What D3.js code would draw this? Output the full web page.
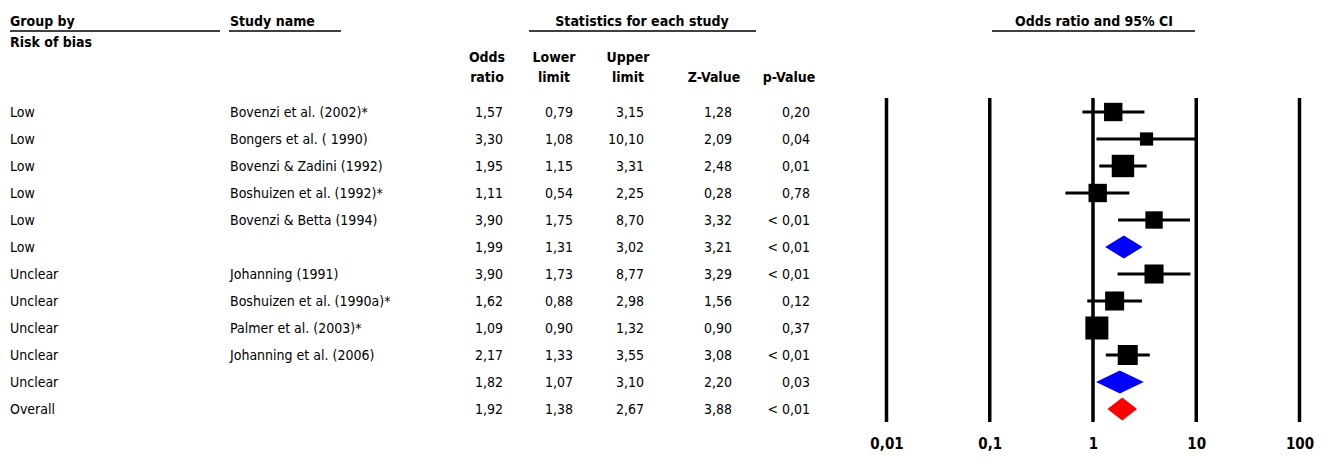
<!DOCTYPE html>
<html>
<head>
<meta charset="utf-8">
<script src="https://cdn.jsdelivr.net/npm/d3@7/dist/d3.min.js"></script>
<style>
  body { margin: 0; background: #fff; }
  svg text { font-family: "Liberation Sans Narrow", "Arial Narrow", "DejaVu Sans Condensed", sans-serif; font-size: 14px; fill: #000; }
  svg text.bold { font-weight: bold; }
</style>
</head>
<body>
<div id="graphicContainer"></div>
<script>

// one entry per row, top to bottom
const groups = ["Low", "Low", "Low", "Low", "Low", "Low", "Unclear", "Unclear", "Unclear", "Unclear", "Unclear", "Overall"]
const studies = ["Bovenzi et al. (2002)*", "Bongers et al. ( 1990)", "Bovenzi & Zadini (1992)", "Boshuizen et al. (1992)*", "Bovenzi & Betta (1994)", "", "Johanning  (1991)", "Boshuizen et al. (1990a)*", "Palmer et al. (2003)*", "Johanning et al. (2006)", "", ""]
const rowTypes = ["study", "study", "study", "study", "study", "subtotal", "study", "study", "study", "study", "subtotal", "overall"]
const oddsRatio = [1.57, 3.30, 1.95, 1.11, 3.90, 1.99, 3.90, 1.62, 1.09, 2.17, 1.82, 1.92]
const lowerLimit = [0.79, 1.08, 1.15, 0.54, 1.75, 1.31, 1.73, 0.88, 0.90, 1.33, 1.07, 1.38]
const upperLimit = [3.15, 10.10, 3.31, 2.25, 8.70, 3.02, 8.77, 2.98, 1.32, 3.55, 3.10, 2.67]
const zValue = [1.28, 2.09, 2.48, 0.28, 3.32, 3.21, 3.29, 1.56, 0.90, 3.08, 2.20, 3.88]
const pValue = ["0,20", "0,04", "0,01", "0,78", "< 0,01", "< 0,01", "< 0,01", "0,12", "0,37", "< 0,01", "0,03", "< 0,01"]
// relative weights (estimated from square sizes)
const weights = [20.4, 10.6, 30.4, 20.4, 18.2, 0, 21.9, 21.9, 32.0, 24.2, 0, 0]

const axisTicks = [0.01, 0.1, 1, 10, 100]
const tickLabels = ["0,01", "0,1", "1", "10", "100"]

const rows = groups.map((g, i) => ({
  group: g,
  study: studies[i],
  type: rowTypes[i],
  or: oddsRatio[i],
  lo: lowerLimit[i],
  hi: upperLimit[i],
  z: zValue[i],
  p: pValue[i],
  w: weights[i]
}))

const width = 1323
const height = 457

const fmt = (v) => d3.format(".2f")(v).replace(".", ",")

const svg = d3.select("#graphicContainer").append("svg")
.attr("width", width)
.attr("height", height)

const y = d3.scalePoint()
.domain(d3.range(rows.length))
.range([112, 409])

const x = d3.scaleLog()
.domain([0.01, 100])
.range([886.5, 1299.5])

const size = d3.scaleSqrt()
.domain([0, d3.max(weights)])
.range([0, 23])

// header titles with underlines
const headers = [
  { text: "Group by", x: 10, anchor: "start", x1: 10, x2: 220 },
  { text: "Study name", x: 230, anchor: "start", x1: 229, x2: 341 },
  { text: "Statistics for each study", x: 642, anchor: "middle", x1: 529, x2: 756 },
  { text: "Odds ratio and 95% CI", x: 1094, anchor: "middle", x1: 992, x2: 1195 }
]

headers.forEach((h) => {

  svg.append("text")
  .attr("class", "bold")
  .attr("x", h.x)
  .attr("y", 26)
  .attr("text-anchor", h.anchor)
  .text(h.text)

  svg.append("line")
  .attr("x1", h.x1)
  .attr("x2", h.x2)
  .attr("y1", 31)
  .attr("y2", 31)
  .attr("stroke", "#000")
  .attr("stroke-width", 1.5)

})

svg.append("text")
.attr("class", "bold")
.attr("x", 10)
.attr("y", 47)
.text("Risk of bias")

// column headers
const columns = [
  { top: "Odds", bottom: "ratio", center: 487, right: 503, key: (d) => fmt(d.or) },
  { top: "Lower", bottom: "limit", center: 554, right: 573, key: (d) => fmt(d.lo) },
  { top: "Upper", bottom: "limit", center: 628, right: 644, key: (d) => fmt(d.hi) },
  { top: "", bottom: "Z-Value", center: 714, right: 732, key: (d) => fmt(d.z) },
  { top: "", bottom: "p-Value", center: 789, right: 810, key: (d) => d.p }
]

columns.forEach((c) => {

  svg.append("text")
  .attr("class", "bold")
  .attr("x", c.center)
  .attr("y", 62)
  .attr("text-anchor", "middle")
  .text(c.top)

  svg.append("text")
  .attr("class", "bold")
  .attr("x", c.center)
  .attr("y", 82)
  .attr("text-anchor", "middle")
  .text(c.bottom)

  svg.append("g")
  .selectAll("text")
  .data(rows)
  .enter()
  .append("text")
  .attr("x", c.right)
  .attr("y", (d, i) => y(i) + 5)
  .attr("text-anchor", "end")
  .text(c.key)

})

svg.append("g")
.selectAll("text")
.data(rows)
.enter()
.append("text")
.attr("x", 10)
.attr("y", (d, i) => y(i) + 5)
.text((d) => d.group)

svg.append("g")
.selectAll("text")
.data(rows)
.enter()
.append("text")
.attr("x", 230)
.attr("y", (d, i) => y(i) + 5)
.text((d) => d.study)

// vertical reference lines
svg.append("g")
.selectAll("line")
.data(axisTicks)
.enter()
.append("line")
.attr("x1", (d) => x(d))
.attr("x2", (d) => x(d))
.attr("y1", 98)
.attr("y2", 422)
.attr("stroke", "#000")
.attr("stroke-width", 3.5)

const axis = svg.append("g")
.attr("transform", "translate(0, 438)")
.call(d3.axisBottom(x).tickValues(axisTicks).tickFormat((d, i) => tickLabels[i]).tickSize(0))

axis.select(".domain").remove()

axis.selectAll("text")
.attr("class", "bold")
.style("font-size", "15px")
.attr("dy", "0.71em")
.attr("y", 0)

// study rows: CI line and weighted square
const studyRows = rows.map((d, i) => ({ ...d, i })).filter((d) => d.type == "study")

svg.append("g")
.selectAll("line")
.data(studyRows)
.enter()
.append("line")
.attr("x1", (d) => x(d.lo))
.attr("x2", (d) => x(d.hi))
.attr("y1", (d) => y(d.i))
.attr("y2", (d) => y(d.i))
.attr("stroke", "#000")
.attr("stroke-width", 3)

svg.append("g")
.selectAll("rect")
.data(studyRows)
.enter()
.append("rect")
.attr("x", (d) => x(d.or) - size(d.w) / 2)
.attr("y", (d) => y(d.i) - size(d.w) / 2)
.attr("width", (d) => size(d.w))
.attr("height", (d) => size(d.w))
.attr("fill", "#000")

// pooled diamonds
const pooledRows = rows.map((d, i) => ({ ...d, i })).filter((d) => d.type != "study")

svg.append("g")
.selectAll("path")
.data(pooledRows)
.enter()
.append("path")
.attr("d", (d) => {
  const cy = y(d.i)
  return `M${x(d.lo)},${cy} L${x(d.or)},${cy - 11.5} L${x(d.hi)},${cy} L${x(d.or)},${cy + 11.5} Z`
})
.attr("fill", (d) => d.type == "overall" ? "#ff0000" : "#0000ff")

</script>
</body>
</html>
